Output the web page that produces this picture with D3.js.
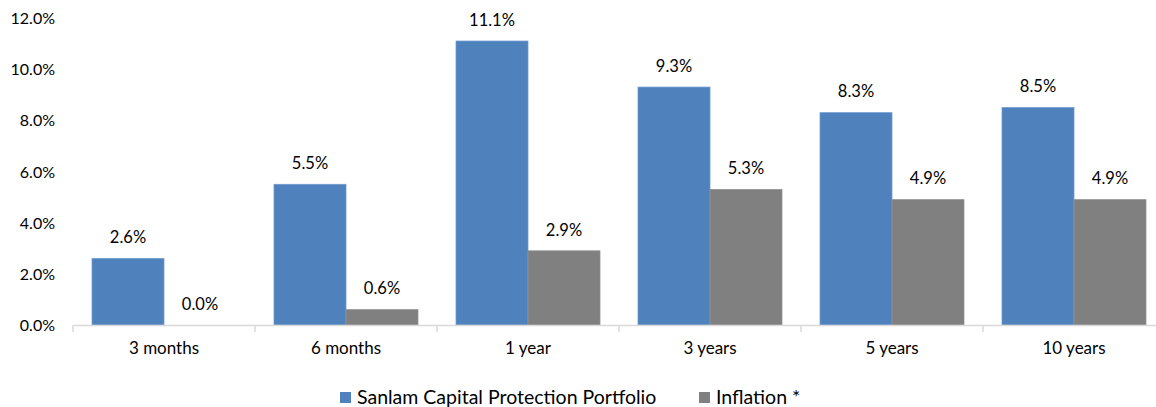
<!DOCTYPE html>
<html lang="en">
<head>
  <meta charset="UTF-8">
  <title>Returns</title>
  <script src="https://cdn.jsdelivr.net/npm/d3@7"></script>
  <style>
    body { margin: 0; background: #fff; }
    text { font-family: Lato, "Open Sans", sans-serif; fill: #000; }
  </style>
</head>
<body>
  <svg width="1156" height="407"></svg>
  <script>
    var categories = ['3 months', '6 months', '1 year', '3 years', '5 years', '10 years'];
    var seriesNames = ['Sanlam Capital Protection Portfolio', 'Inflation *'];
    var sanlam = [2.6, 5.5, 11.1, 9.3, 8.3, 8.5];
    var inflation = [0.0, 0.6, 2.9, 5.3, 4.9, 4.9];
    var yTicks = [0, 2, 4, 6, 8, 10, 12];
    var colors = ['#4f81bd', '#808080'];

    var svg = d3.select('svg');
    var margin = {top: 18, left: 73};
    var plotW = 1092, plotH = 307;
    var chart = svg.append('g')
      .attr('transform', 'translate(' + margin.left + ',' + margin.top + ')');

    var x0 = d3.scaleBand().domain(categories).range([0, plotW]).paddingInner(0).paddingOuter(0);
    var x1 = d3.scaleBand().domain([0, 1]).range([19, x0.bandwidth() - 19]);
    var y = d3.scaleLinear().domain([0, 12]).range([plotH, 0]);

    // y axis labels only
    var yAxis = d3.axisLeft(y).tickValues(yTicks).tickSize(0).tickPadding(18)
      .tickFormat(function(d) { return d.toFixed(1) + '%'; });
    var yg = chart.append('g').call(yAxis);
    yg.select('.domain').remove();
    yg.selectAll('text').attr('font-size', 16).attr('dy', '0.35em');

    var rows = categories.map(function(c, i) { return {cat: c, vals: [sanlam[i], inflation[i]]}; });

    var groups = chart.selectAll('.grp').data(rows).enter().append('g')
      .attr('transform', function(d) { return 'translate(' + x0(d.cat) + ',0)'; });

    groups.selectAll('rect').data(function(d) { return d.vals; }).enter().append('rect')
      .attr('x', function(d, i) { return x1(i); })
      .attr('width', x1.bandwidth())
      .attr('y', function(d) { return y(d); })
      .attr('height', function(d) { return plotH - y(d); })
      .attr('fill', function(d, i) { return colors[i]; })
      .attr('stroke', function(d, i) { return i === 0 ? '#6d9ad0' : '#8f8f8f'; })
      .attr('stroke-width', 0.75);

    groups.selectAll('.lbl').data(function(d) { return d.vals; }).enter().append('text')
      .attr('class', 'lbl')
      .attr('x', function(d, i) { return x1(i) + x1.bandwidth() / 2; })
      .attr('y', function(d) { return y(d) - 21; })
      .attr('dy', '0.35em')
      .attr('text-anchor', 'middle')
      .attr('font-size', 16.5)
      .text(function(d) { return d.toFixed(1) + '%'; });

    // x axis
    var xAxis = d3.axisBottom(x0).tickSize(0).tickPadding(17);
    var xg = chart.append('g').attr('transform', 'translate(0,' + plotH + ')').call(xAxis);
    xg.select('.domain').attr('stroke', '#d9d9d9').attr('stroke-width', 1.5);
    xg.selectAll('text').attr('font-size', 17);
    xg.selectAll('.sep').data(d3.range(categories.length + 1)).enter().append('line')
      .attr('x1', function(d) { return d * x0.bandwidth(); })
      .attr('x2', function(d) { return d * x0.bandwidth(); })
      .attr('y1', 0).attr('y2', 7)
      .attr('stroke', '#d9d9d9').attr('stroke-width', 1.5);

    // legend
    var legendX = [340, 699];
    var leg = svg.selectAll('.leg').data(seriesNames).enter().append('g')
      .attr('transform', function(d, i) { return 'translate(' + legendX[i] + ',397)'; });
    leg.append('rect').attr('x', 0).attr('y', -5).attr('width', 11).attr('height', 11)
      .attr('fill', function(d, i) { return colors[i]; });
    leg.append('text').attr('x', 17).attr('dy', '0.35em').attr('font-size', 19.5)
      .text(function(d) { return d; });
  </script>
</body>
</html>
